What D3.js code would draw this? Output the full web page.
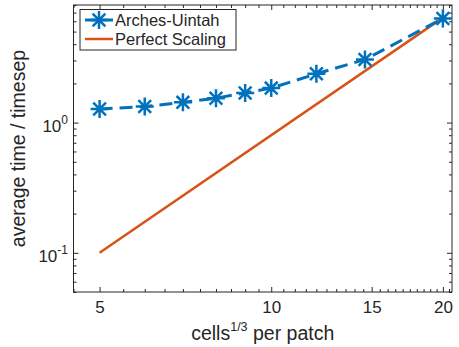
<!DOCTYPE html>
<html>
<head>
<meta charset="utf-8">
<script src="https://cdn.jsdelivr.net/npm/d3@7"></script>
<style>
body { margin: 0; background: #fff; }
text { font-family: "Liberation Sans", Arial, Helvetica, sans-serif; fill: #262626; }
</style>
</head>
<body>
<script>
// data
var cells = [5, 6, 7, 8, 9, 10, 12, 14.6, 20];
var archesTime = [1.27, 1.33, 1.43, 1.54, 1.69, 1.84, 2.37, 3.05, 6.3];
var perfectCells = [5, 20];
var perfectTime = [0.1, 6.4];
var xTickLabels = [5, 10, 15, 20];
var yTickLabels = [0.1, 1];
var yTickExp = ['-1', '0'];
var seriesNames = ['Arches-Uintah', 'Perfect Scaling'];

var blue = '#0072BD', orange = '#D95319', axisColor = '#262626';
var plotL = 73.5, plotR = 452, plotT = 5, plotB = 292;

var svg = d3.select('body').append('svg').attr('width', 459).attr('height', 347);

var x = d3.scaleLog().domain([4.5, 20.75]).range([plotL, plotR]);
var y = d3.scaleLog().domain([0.05, 8]).range([plotB, plotT]);

var xMinor = d3.range(4.5, 20.75, 0.5).filter(function(d) { return xTickLabels.indexOf(d) < 0; });
var yMinor = [0.05, 0.06, 0.07, 0.08, 0.09, 0.2, 0.3, 0.4, 0.5, 0.6, 0.7, 0.8, 0.9, 2, 3, 4, 5, 6, 7, 8];

function styleAxis(g) {
    g.select('.domain').remove();
    g.selectAll('line').attr('stroke', axisColor).attr('stroke-width', 1);
}

// bottom axis
svg.append('g').attr('transform', 'translate(0,' + plotB + ')')
    .call(d3.axisBottom(x).tickValues(xTickLabels).tickSizeInner(-5).tickSizeOuter(0)
        .tickPadding(9).tickFormat(d3.format('d')))
    .call(styleAxis)
    .selectAll('text').attr('font-size', 17).attr('fill', axisColor);
svg.append('g').attr('transform', 'translate(0,' + plotB + ')')
    .call(d3.axisBottom(x).tickValues(xMinor).tickSizeInner(-3).tickSizeOuter(0).tickFormat(''))
    .call(styleAxis);
// top axis
svg.append('g').attr('transform', 'translate(0,' + plotT + ')')
    .call(d3.axisTop(x).tickValues(xTickLabels).tickSizeInner(-5).tickSizeOuter(0).tickFormat(''))
    .call(styleAxis);
svg.append('g').attr('transform', 'translate(0,' + plotT + ')')
    .call(d3.axisTop(x).tickValues(xMinor).tickSizeInner(-3).tickSizeOuter(0).tickFormat(''))
    .call(styleAxis);
// left axis
svg.append('g').attr('transform', 'translate(' + plotL + ',0)')
    .call(d3.axisLeft(y).tickValues(yTickLabels).tickSizeInner(-5).tickSizeOuter(0).tickFormat(''))
    .call(styleAxis);
svg.append('g').attr('transform', 'translate(' + plotL + ',0)')
    .call(d3.axisLeft(y).tickValues(yMinor).tickSizeInner(-3).tickSizeOuter(0).tickFormat(''))
    .call(styleAxis);
// right axis
svg.append('g').attr('transform', 'translate(' + plotR + ',0)')
    .call(d3.axisRight(y).tickValues(yTickLabels).tickSizeInner(-5).tickSizeOuter(0).tickFormat(''))
    .call(styleAxis);
svg.append('g').attr('transform', 'translate(' + plotR + ',0)')
    .call(d3.axisRight(y).tickValues(yMinor).tickSizeInner(-3).tickSizeOuter(0).tickFormat(''))
    .call(styleAxis);

// y tick labels with exponents
var yl = svg.append('g').selectAll('text').data(yTickLabels).enter().append('text')
    .attr('x', 68).attr('y', function(d) { return y(d) + 9; })
    .attr('text-anchor', 'end').attr('font-size', 17);
yl.append('tspan').text('10');
yl.append('tspan').attr('dy', -8).attr('font-size', 12).text(function(d, i) { return yTickExp[i]; });

// box
svg.append('rect').attr('x', plotL).attr('y', plotT).attr('width', plotR - plotL).attr('height', plotB - plotT)
    .attr('fill', 'none').attr('stroke', axisColor).attr('stroke-width', 1);

// perfect scaling
var line = d3.line().x(function(d) { return x(d[0]); }).y(function(d) { return y(d[1]); });
svg.append('path').datum(d3.zip(perfectCells, perfectTime)).attr('d', line)
    .attr('fill', 'none').attr('stroke', orange).attr('stroke-width', 2.5);

// arches-uintah
svg.append('path').datum(d3.zip(cells, archesTime)).attr('d', line)
    .attr('fill', 'none').attr('stroke', blue).attr('stroke-width', 3)
    .attr('stroke-dasharray', '13,7');

function star(r) {
    var d = r * 0.7071;
    return 'M' + (-r) + ',0L' + r + ',0M0,' + (-r) + 'L0,' + r +
        'M' + (-d) + ',' + (-d) + 'L' + d + ',' + d + 'M' + (-d) + ',' + d + 'L' + d + ',' + (-d);
}
svg.append('g').selectAll('path').data(d3.zip(cells, archesTime)).enter().append('path')
    .attr('transform', function(d) { return 'translate(' + x(d[0]) + ',' + y(d[1]) + ')'; })
    .attr('d', star(9)).attr('fill', 'none').attr('stroke', blue).attr('stroke-width', 2.5);

// legend
var lg = svg.append('g');
lg.append('rect').attr('x', 80).attr('y', 9.5).attr('width', 156).attr('height', 40.5)
    .attr('fill', '#fff').attr('stroke', axisColor).attr('stroke-width', 1);
lg.append('line').attr('x1', 85).attr('x2', 113).attr('y1', 20).attr('y2', 20)
    .attr('stroke', blue).attr('stroke-width', 3);
lg.append('path').attr('transform', 'translate(99,20)').attr('d', star(9))
    .attr('fill', 'none').attr('stroke', blue).attr('stroke-width', 2.5);
lg.append('line').attr('x1', 85).attr('x2', 113).attr('y1', 39).attr('y2', 39)
    .attr('stroke', orange).attr('stroke-width', 2.5);
lg.selectAll('text.lab').data(seriesNames).enter().append('text').attr('class', 'lab')
    .attr('x', 115).attr('y', function(d, i) { return 25.5 + i * 19; })
    .attr('font-size', 16.5).text(function(d) { return d; });

// axis titles
var xt = svg.append('text').attr('x', (plotL + plotR) / 2).attr('y', 340)
    .attr('text-anchor', 'middle').attr('font-size', 19.5);
xt.append('tspan').text('cells');
xt.append('tspan').attr('dy', -9).attr('font-size', 12.5).text('1/3');
xt.append('tspan').attr('dy', 9).text(' per patch');

svg.append('text').attr('transform', 'translate(25,' + ((plotT + plotB) / 2) + ') rotate(-90)')
    .attr('text-anchor', 'middle').attr('font-size', 19.5).text('average time / timesep');
</script>
</body>
</html>
